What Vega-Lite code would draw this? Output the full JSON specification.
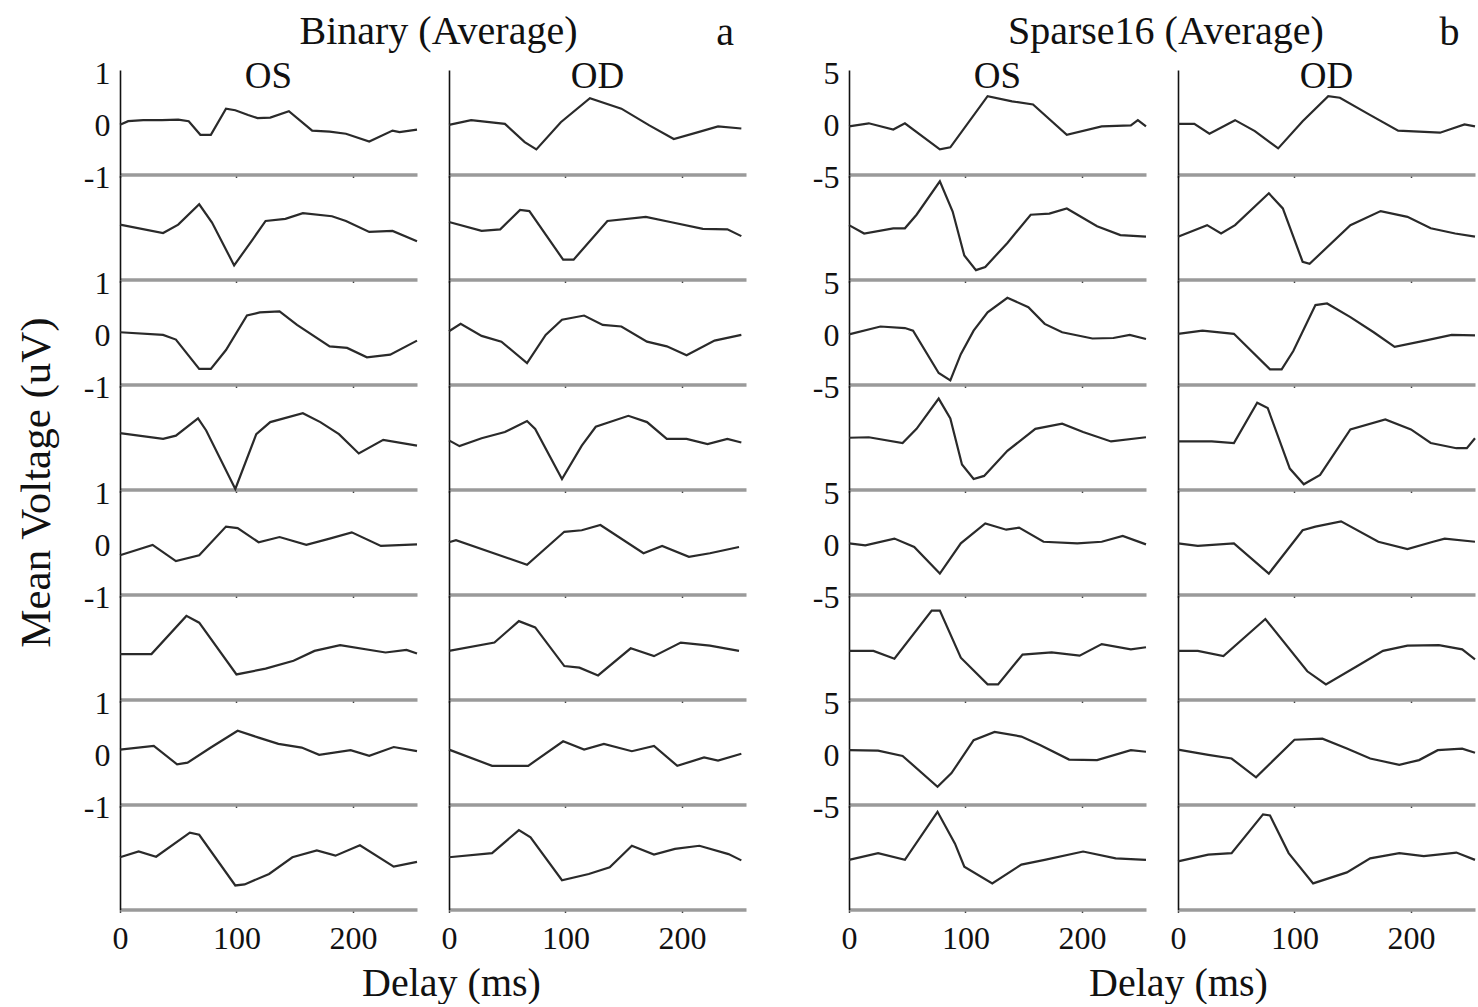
{
"$schema": "https://vega.github.io/schema/vega-lite/v6.json",
"background": "white",
"padding": {"left": 14, "top": 12, "right": 0, "bottom": 0},
"spacing": 66,
"hconcat": [
{"title": {"text": "a", "anchor": "end", "dy": 45, "dx": -12, "fontSize": 40},
 "vconcat": [
 {"title": {"text": "Binary (Average)", "anchor": "middle", "fontSize": 40, "offset": 2, "dx": 58, "dy": -3},
  "columns": 2, "spacing": {"row": 0, "column": 32}, "bounds": "flush",
  "concat": [
  {"data": {"name": "aOS1"}, "title": {"text": "OS", "frame": "group", "fontSize": 37, "offset": 0, "dy": 39}, "mark": "line",
   "encoding": {"x": {"field": "t", "type": "quantitative", "scale": {"domain": [0, 255], "nice": false}, "title": null},
                "y": {"field": "v", "type": "quantitative", "scale": {"domain": [-1, 1], "nice": false}, "title": null, "axis": {"labels": true, "labelExpr": "'' + datum.value"}}}},
  {"data": {"name": "aOD1"}, "title": {"text": "OD", "frame": "group", "fontSize": 37, "offset": 0, "dy": 26}, "mark": "line",
   "encoding": {"x": {"field": "t", "type": "quantitative", "scale": {"domain": [0, 255], "nice": false}, "title": null},
                "y": {"field": "v", "type": "quantitative", "scale": {"domain": [-1, 1], "nice": false}, "title": null}}},
  {"data": {"name": "aOS2"}, "mark": "line",
   "encoding": {"x": {"field": "t", "type": "quantitative", "scale": {"domain": [0, 255], "nice": false}, "title": null},
                "y": {"field": "v", "type": "quantitative", "scale": {"domain": [-1, 1], "nice": false}, "title": null}}},
  {"data": {"name": "aOD2"}, "mark": "line",
   "encoding": {"x": {"field": "t", "type": "quantitative", "scale": {"domain": [0, 255], "nice": false}, "title": null},
                "y": {"field": "v", "type": "quantitative", "scale": {"domain": [-1, 1], "nice": false}, "title": null}}},
  {"data": {"name": "aOS3"}, "mark": "line",
   "encoding": {"x": {"field": "t", "type": "quantitative", "scale": {"domain": [0, 255], "nice": false}, "title": null},
                "y": {"field": "v", "type": "quantitative", "scale": {"domain": [-1, 1], "nice": false}, "title": null, "axis": {"labels": true, "labelExpr": "'' + datum.value"}}}},
  {"data": {"name": "aOD3"}, "mark": "line",
   "encoding": {"x": {"field": "t", "type": "quantitative", "scale": {"domain": [0, 255], "nice": false}, "title": null},
                "y": {"field": "v", "type": "quantitative", "scale": {"domain": [-1, 1], "nice": false}, "title": null}}},
  {"data": {"name": "aOS4"}, "mark": "line",
   "encoding": {"x": {"field": "t", "type": "quantitative", "scale": {"domain": [0, 255], "nice": false}, "title": null},
                "y": {"field": "v", "type": "quantitative", "scale": {"domain": [-1, 1], "nice": false}, "title": null}}},
  {"data": {"name": "aOD4"}, "mark": "line",
   "encoding": {"x": {"field": "t", "type": "quantitative", "scale": {"domain": [0, 255], "nice": false}, "title": null},
                "y": {"field": "v", "type": "quantitative", "scale": {"domain": [-1, 1], "nice": false}, "title": null}}},
  {"data": {"name": "aOS5"}, "mark": "line",
   "encoding": {"x": {"field": "t", "type": "quantitative", "scale": {"domain": [0, 255], "nice": false}, "title": null},
                "y": {"field": "v", "type": "quantitative", "scale": {"domain": [-1, 1], "nice": false}, "title": "Mean Voltage (uV)",
                      "axis": {"labels": true, "labelExpr": "'' + datum.value", "titleX": -84, "titleY": -8, "titleAngle": -90, "titleAlign": "center", "titleBaseline": "middle", "titleFontSize": 43}}}},
  {"data": {"name": "aOD5"}, "mark": "line",
   "encoding": {"x": {"field": "t", "type": "quantitative", "scale": {"domain": [0, 255], "nice": false}, "title": null},
                "y": {"field": "v", "type": "quantitative", "scale": {"domain": [-1, 1], "nice": false}, "title": null}}},
  {"data": {"name": "aOS6"}, "mark": "line",
   "encoding": {"x": {"field": "t", "type": "quantitative", "scale": {"domain": [0, 255], "nice": false}, "title": null},
                "y": {"field": "v", "type": "quantitative", "scale": {"domain": [-1, 1], "nice": false}, "title": null}}},
  {"data": {"name": "aOD6"}, "mark": "line",
   "encoding": {"x": {"field": "t", "type": "quantitative", "scale": {"domain": [0, 255], "nice": false}, "title": null},
                "y": {"field": "v", "type": "quantitative", "scale": {"domain": [-1, 1], "nice": false}, "title": null}}},
  {"data": {"name": "aOS7"}, "mark": "line",
   "encoding": {"x": {"field": "t", "type": "quantitative", "scale": {"domain": [0, 255], "nice": false}, "title": null},
                "y": {"field": "v", "type": "quantitative", "scale": {"domain": [-1, 1], "nice": false}, "title": null, "axis": {"labels": true, "labelExpr": "'' + datum.value"}}}},
  {"data": {"name": "aOD7"}, "mark": "line",
   "encoding": {"x": {"field": "t", "type": "quantitative", "scale": {"domain": [0, 255], "nice": false}, "title": null},
                "y": {"field": "v", "type": "quantitative", "scale": {"domain": [-1, 1], "nice": false}, "title": null}}},
  {"data": {"name": "aOS8"}, "mark": "line",
   "encoding": {"x": {"field": "t", "type": "quantitative", "scale": {"domain": [0, 255], "nice": false}, "title": "Delay (ms)",
                      "axis": {"labels": true, "titleX": 331, "titleY": 74, "titleAlign": "center", "titleBaseline": "middle"}},
                "y": {"field": "v", "type": "quantitative", "scale": {"domain": [-1, 1], "nice": false}, "title": null}}},
  {"data": {"name": "aOD8"}, "mark": "line",
   "encoding": {"x": {"field": "t", "type": "quantitative", "scale": {"domain": [0, 255], "nice": false}, "title": null, "axis": {"labels": true}},
                "y": {"field": "v", "type": "quantitative", "scale": {"domain": [-1, 1], "nice": false}, "title": null}}}
  ]}
 ]},
{"title": {"text": "b", "anchor": "end", "dy": 45, "dx": -20, "fontSize": 40},
 "vconcat": [
 {"title": {"text": "Sparse16 (Average)", "anchor": "middle", "fontSize": 40, "offset": 2, "dx": 20, "dy": -3},
  "columns": 2, "spacing": {"row": 0, "column": 32}, "bounds": "flush",
  "concat": [
  {"data": {"name": "bOS1"}, "title": {"text": "OS", "frame": "group", "fontSize": 37, "offset": 0, "dy": 39}, "mark": "line",
   "encoding": {"x": {"field": "t", "type": "quantitative", "scale": {"domain": [0, 255], "nice": false}, "title": null},
                "y": {"field": "v", "type": "quantitative", "scale": {"domain": [-5, 5], "nice": false}, "title": null, "axis": {"labels": true, "labelExpr": "'' + datum.value"}}}},
  {"data": {"name": "bOD1"}, "title": {"text": "OD", "frame": "group", "fontSize": 37, "offset": 0, "dy": 26}, "mark": "line",
   "encoding": {"x": {"field": "t", "type": "quantitative", "scale": {"domain": [0, 255], "nice": false}, "title": null},
                "y": {"field": "v", "type": "quantitative", "scale": {"domain": [-5, 5], "nice": false}, "title": null}}},
  {"data": {"name": "bOS2"}, "mark": "line",
   "encoding": {"x": {"field": "t", "type": "quantitative", "scale": {"domain": [0, 255], "nice": false}, "title": null},
                "y": {"field": "v", "type": "quantitative", "scale": {"domain": [-5, 5], "nice": false}, "title": null}}},
  {"data": {"name": "bOD2"}, "mark": "line",
   "encoding": {"x": {"field": "t", "type": "quantitative", "scale": {"domain": [0, 255], "nice": false}, "title": null},
                "y": {"field": "v", "type": "quantitative", "scale": {"domain": [-5, 5], "nice": false}, "title": null}}},
  {"data": {"name": "bOS3"}, "mark": "line",
   "encoding": {"x": {"field": "t", "type": "quantitative", "scale": {"domain": [0, 255], "nice": false}, "title": null},
                "y": {"field": "v", "type": "quantitative", "scale": {"domain": [-5, 5], "nice": false}, "title": null, "axis": {"labels": true, "labelExpr": "'' + datum.value"}}}},
  {"data": {"name": "bOD3"}, "mark": "line",
   "encoding": {"x": {"field": "t", "type": "quantitative", "scale": {"domain": [0, 255], "nice": false}, "title": null},
                "y": {"field": "v", "type": "quantitative", "scale": {"domain": [-5, 5], "nice": false}, "title": null}}},
  {"data": {"name": "bOS4"}, "mark": "line",
   "encoding": {"x": {"field": "t", "type": "quantitative", "scale": {"domain": [0, 255], "nice": false}, "title": null},
                "y": {"field": "v", "type": "quantitative", "scale": {"domain": [-5, 5], "nice": false}, "title": null}}},
  {"data": {"name": "bOD4"}, "mark": "line",
   "encoding": {"x": {"field": "t", "type": "quantitative", "scale": {"domain": [0, 255], "nice": false}, "title": null},
                "y": {"field": "v", "type": "quantitative", "scale": {"domain": [-5, 5], "nice": false}, "title": null}}},
  {"data": {"name": "bOS5"}, "mark": "line",
   "encoding": {"x": {"field": "t", "type": "quantitative", "scale": {"domain": [0, 255], "nice": false}, "title": null},
                "y": {"field": "v", "type": "quantitative", "scale": {"domain": [-5, 5], "nice": false}, "title": null, "axis": {"labels": true, "labelExpr": "'' + datum.value"}}}},
  {"data": {"name": "bOD5"}, "mark": "line",
   "encoding": {"x": {"field": "t", "type": "quantitative", "scale": {"domain": [0, 255], "nice": false}, "title": null},
                "y": {"field": "v", "type": "quantitative", "scale": {"domain": [-5, 5], "nice": false}, "title": null}}},
  {"data": {"name": "bOS6"}, "mark": "line",
   "encoding": {"x": {"field": "t", "type": "quantitative", "scale": {"domain": [0, 255], "nice": false}, "title": null},
                "y": {"field": "v", "type": "quantitative", "scale": {"domain": [-5, 5], "nice": false}, "title": null}}},
  {"data": {"name": "bOD6"}, "mark": "line",
   "encoding": {"x": {"field": "t", "type": "quantitative", "scale": {"domain": [0, 255], "nice": false}, "title": null},
                "y": {"field": "v", "type": "quantitative", "scale": {"domain": [-5, 5], "nice": false}, "title": null}}},
  {"data": {"name": "bOS7"}, "mark": "line",
   "encoding": {"x": {"field": "t", "type": "quantitative", "scale": {"domain": [0, 255], "nice": false}, "title": null},
                "y": {"field": "v", "type": "quantitative", "scale": {"domain": [-5, 5], "nice": false}, "title": null, "axis": {"labels": true, "labelExpr": "'' + datum.value"}}}},
  {"data": {"name": "bOD7"}, "mark": "line",
   "encoding": {"x": {"field": "t", "type": "quantitative", "scale": {"domain": [0, 255], "nice": false}, "title": null},
                "y": {"field": "v", "type": "quantitative", "scale": {"domain": [-5, 5], "nice": false}, "title": null}}},
  {"data": {"name": "bOS8"}, "mark": "line",
   "encoding": {"x": {"field": "t", "type": "quantitative", "scale": {"domain": [0, 255], "nice": false}, "title": "Delay (ms)",
                      "axis": {"labels": true, "titleX": 329, "titleY": 74, "titleAlign": "center", "titleBaseline": "middle"}},
                "y": {"field": "v", "type": "quantitative", "scale": {"domain": [-5, 5], "nice": false}, "title": null}}},
  {"data": {"name": "bOD8"}, "mark": "line",
   "encoding": {"x": {"field": "t", "type": "quantitative", "scale": {"domain": [0, 255], "nice": false}, "title": null, "axis": {"labels": true}},
                "y": {"field": "v", "type": "quantitative", "scale": {"domain": [-5, 5], "nice": false}, "title": null}}}
  ]}
 ]}
],
"config": {
 "font": "Liberation Serif",
 "view": {"stroke": null, "continuousWidth": 297, "continuousHeight": 104.5},
 "line": {"color": "#2a2a2a", "strokeWidth": 2.2},
 "title": {"font": "Liberation Serif", "fontSize": 40, "fontWeight": "normal", "color": "#111111"},
 "axis": {"grid": false, "labelFont": "Liberation Serif", "labelFontSize": 32, "labelColor": "#111111", "titleFont": "Liberation Serif", "titleFontSize": 40, "titleFontWeight": "normal", "titleColor": "#111111", "labelFlush": false, "labelOverlap": false, "labelBound": false},
 "axisX": {"labels": false, "tickCount": 3, "domainColor": "#9a9a9a", "domainWidth": 3.5, "ticks": true, "tickSize": 3, "tickColor": "#444444", "tickWidth": 1.5, "labelPadding": 11},
 "axisY": {"labels": false, "tickCount": 2, "domainColor": "#111111", "domainWidth": 1.6, "ticks": false, "labelPadding": 10, "labelOffset": 3}
},
"datasets": {
 "aOS1": [{"t":0,"v":-0.05},{"t":7,"v":0.02},{"t":20,"v":0.04},{"t":36,"v":0.04},{"t":50,"v":0.05},{"t":59,"v":0.02},{"t":69,"v":-0.24},{"t":78,"v":-0.24},{"t":91,"v":0.26},{"t":99,"v":0.23},{"t":110,"v":0.14},{"t":118,"v":0.08},{"t":129,"v":0.09},{"t":145,"v":0.21},{"t":165,"v":-0.16},{"t":180,"v":-0.18},{"t":194,"v":-0.22},{"t":214,"v":-0.37},{"t":234,"v":-0.16},{"t":240,"v":-0.19},{"t":255,"v":-0.14}],
 "aOS2": [{"t":0,"v":0.05},{"t":37,"v":-0.11},{"t":50,"v":0.05},{"t":68,"v":0.44},{"t":79,"v":0.09},{"t":98,"v":-0.73},{"t":114,"v":-0.23},{"t":125,"v":0.12},{"t":142,"v":0.16},{"t":157,"v":0.27},{"t":182,"v":0.21},{"t":194,"v":0.12},{"t":214,"v":-0.09},{"t":234,"v":-0.07},{"t":255,"v":-0.27}],
 "aOS3": [{"t":0,"v":0},{"t":37,"v":-0.05},{"t":48,"v":-0.14},{"t":68,"v":-0.7},{"t":78,"v":-0.7},{"t":91,"v":-0.34},{"t":109,"v":0.32},{"t":120,"v":0.38},{"t":137,"v":0.4},{"t":152,"v":0.14},{"t":180,"v":-0.27},{"t":195,"v":-0.3},{"t":212,"v":-0.48},{"t":232,"v":-0.43},{"t":255,"v":-0.16}],
 "aOS4": [{"t":0,"v":0.08},{"t":37,"v":-0.03},{"t":48,"v":0.03},{"t":67,"v":0.36},{"t":74,"v":0.13},{"t":99,"v":-0.99},{"t":117,"v":0.06},{"t":129,"v":0.29},{"t":157,"v":0.46},{"t":172,"v":0.29},{"t":188,"v":0.06},{"t":205,"v":-0.31},{"t":226,"v":-0.05},{"t":255,"v":-0.16}],
 "aOS5": [{"t":0,"v":-0.25},{"t":28,"v":-0.05},{"t":48,"v":-0.36},{"t":68,"v":-0.25},{"t":91,"v":0.3},{"t":101,"v":0.27},{"t":119,"v":0},{"t":137,"v":0.1},{"t":160,"v":-0.05},{"t":180,"v":0.07},{"t":199,"v":0.19},{"t":224,"v":-0.07},{"t":255,"v":-0.04}],
 "aOS6": [{"t":0,"v":-0.13},{"t":27,"v":-0.13},{"t":57,"v":0.6},{"t":68,"v":0.47},{"t":100,"v":-0.52},{"t":125,"v":-0.41},{"t":149,"v":-0.26},{"t":167,"v":-0.07},{"t":189,"v":0.04},{"t":228,"v":-0.1},{"t":246,"v":-0.05},{"t":255,"v":-0.12}],
 "aOS7": [{"t":0,"v":0.05},{"t":29,"v":0.12},{"t":49,"v":-0.23},{"t":58,"v":-0.2},{"t":78,"v":0.09},{"t":101,"v":0.41},{"t":119,"v":0.28},{"t":136,"v":0.16},{"t":156,"v":0.09},{"t":171,"v":-0.05},{"t":198,"v":0.04},{"t":214,"v":-0.07},{"t":235,"v":0.1},{"t":255,"v":0.02}],
 "aOS8": [{"t":0,"v":0},{"t":16,"v":0.11},{"t":31,"v":0.01},{"t":60,"v":0.47},{"t":68,"v":0.43},{"t":99,"v":-0.54},{"t":107,"v":-0.52},{"t":128,"v":-0.32},{"t":148,"v":0},{"t":169,"v":0.13},{"t":185,"v":0.03},{"t":206,"v":0.23},{"t":235,"v":-0.18},{"t":255,"v":-0.09}],
 "aOD1": [{"t":0,"v":-0.05},{"t":19,"v":0.04},{"t":48,"v":-0.03},{"t":65,"v":-0.38},{"t":75,"v":-0.52},{"t":96,"v":0},{"t":121,"v":0.46},{"t":148,"v":0.26},{"t":172,"v":-0.06},{"t":193,"v":-0.32},{"t":214,"v":-0.19},{"t":231,"v":-0.08},{"t":251,"v":-0.12}],
 "aOD2": [{"t":0,"v":0.1},{"t":28,"v":-0.07},{"t":44,"v":-0.04},{"t":61,"v":0.33},{"t":69,"v":0.31},{"t":98,"v":-0.62},{"t":107,"v":-0.62},{"t":136,"v":0.12},{"t":169,"v":0.2},{"t":190,"v":0.1},{"t":218,"v":-0.03},{"t":239,"v":-0.04},{"t":251,"v":-0.17}],
 "aOD3": [{"t":0,"v":0.02},{"t":10,"v":0.16},{"t":28,"v":-0.07},{"t":45,"v":-0.18},{"t":67,"v":-0.59},{"t":83,"v":-0.05},{"t":97,"v":0.24},{"t":116,"v":0.32},{"t":132,"v":0.14},{"t":148,"v":0.11},{"t":170,"v":-0.18},{"t":187,"v":-0.27},{"t":204,"v":-0.44},{"t":228,"v":-0.16},{"t":251,"v":-0.05}],
 "aOD4": [{"t":0,"v":-0.06},{"t":9,"v":-0.17},{"t":28,"v":-0.02},{"t":48,"v":0.1},{"t":67,"v":0.31},{"t":74,"v":0.16},{"t":97,"v":-0.8},{"t":114,"v":-0.16},{"t":126,"v":0.2},{"t":154,"v":0.41},{"t":170,"v":0.29},{"t":187,"v":-0.03},{"t":204,"v":-0.03},{"t":222,"v":-0.13},{"t":239,"v":-0.03},{"t":251,"v":-0.1}],
 "aOD5": [{"t":0,"v":0},{"t":6,"v":0.04},{"t":67,"v":-0.43},{"t":99,"v":0.2},{"t":114,"v":0.23},{"t":130,"v":0.33},{"t":167,"v":-0.21},{"t":183,"v":-0.07},{"t":206,"v":-0.28},{"t":224,"v":-0.21},{"t":249,"v":-0.09}],
 "aOD6": [{"t":0,"v":-0.07},{"t":39,"v":0.09},{"t":60,"v":0.5},{"t":74,"v":0.38},{"t":99,"v":-0.36},{"t":112,"v":-0.39},{"t":128,"v":-0.54},{"t":156,"v":-0.02},{"t":176,"v":-0.17},{"t":199,"v":0.09},{"t":224,"v":0.03},{"t":249,"v":-0.07}],
 "aOD7": [{"t":0,"v":0.05},{"t":37,"v":-0.26},{"t":68,"v":-0.26},{"t":98,"v":0.21},{"t":116,"v":0.05},{"t":133,"v":0.16},{"t":157,"v":0.02},{"t":176,"v":0.12},{"t":196,"v":-0.26},{"t":219,"v":-0.1},{"t":231,"v":-0.16},{"t":251,"v":-0.03}],
 "aOD8": [{"t":0,"v":0},{"t":37,"v":0.08},{"t":60,"v":0.52},{"t":70,"v":0.38},{"t":97,"v":-0.44},{"t":120,"v":-0.32},{"t":138,"v":-0.19},{"t":157,"v":0.22},{"t":176,"v":0.05},{"t":194,"v":0.16},{"t":215,"v":0.22},{"t":240,"v":0.06},{"t":251,"v":-0.06}],
 "bOS1": [{"t":0,"v":-0.4},{"t":17,"v":-0.1},{"t":38,"v":-0.7},{"t":48,"v":-0.1},{"t":78,"v":-2.6},{"t":87,"v":-2.4},{"t":119,"v":2.5},{"t":140,"v":2.0},{"t":158,"v":1.7},{"t":187,"v":-1.2},{"t":217,"v":-0.4},{"t":242,"v":-0.3},{"t":248,"v":0.2},{"t":255,"v":-0.4}],
 "bOS2": [{"t":0,"v":0.2},{"t":13,"v":-0.6},{"t":38,"v":-0.1},{"t":48,"v":-0.1},{"t":58,"v":1.2},{"t":78,"v":4.4},{"t":89,"v":1.5},{"t":99,"v":-2.7},{"t":109,"v":-4.1},{"t":117,"v":-3.8},{"t":136,"v":-1.5},{"t":156,"v":1.2},{"t":172,"v":1.3},{"t":187,"v":1.8},{"t":213,"v":0.1},{"t":233,"v":-0.75},{"t":255,"v":-0.9}],
 "bOS3": [{"t":0,"v":-0.2},{"t":27,"v":0.55},{"t":48,"v":0.4},{"t":55,"v":0.15},{"t":77,"v":-3.9},{"t":87,"v":-4.6},{"t":96,"v":-2.1},{"t":107,"v":0.15},{"t":119,"v":1.9},{"t":136,"v":3.3},{"t":154,"v":2.4},{"t":168,"v":0.8},{"t":183,"v":0},{"t":209,"v":-0.6},{"t":227,"v":-0.55},{"t":241,"v":-0.25},{"t":255,"v":-0.65}],
 "bOS4": [{"t":0,"v":-0.05},{"t":17,"v":0},{"t":46,"v":-0.55},{"t":58,"v":0.8},{"t":77,"v":3.7},{"t":87,"v":1.8},{"t":97,"v":-2.6},{"t":107,"v":-4.0},{"t":116,"v":-3.7},{"t":136,"v":-1.3},{"t":160,"v":0.8},{"t":183,"v":1.3},{"t":201,"v":0.5},{"t":225,"v":-0.4},{"t":255,"v":0}],
 "bOS5": [{"t":0,"v":-0.1},{"t":14,"v":-0.3},{"t":39,"v":0.35},{"t":56,"v":-0.45},{"t":78,"v":-3.0},{"t":96,"v":-0.1},{"t":117,"v":1.8},{"t":135,"v":1.2},{"t":146,"v":1.4},{"t":167,"v":0.05},{"t":196,"v":-0.1},{"t":217,"v":0.05},{"t":235,"v":0.6},{"t":255,"v":-0.2}],
 "bOS6": [{"t":0,"v":-0.35},{"t":21,"v":-0.35},{"t":39,"v":-1.1},{"t":71,"v":3.5},{"t":78,"v":3.5},{"t":96,"v":-1.0},{"t":119,"v":-3.55},{"t":128,"v":-3.55},{"t":149,"v":-0.7},{"t":174,"v":-0.5},{"t":198,"v":-0.8},{"t":217,"v":0.3},{"t":242,"v":-0.2},{"t":255,"v":0}],
 "bOS7": [{"t":0,"v":0.2},{"t":25,"v":0.15},{"t":46,"v":-0.35},{"t":76,"v":-3.3},{"t":88,"v":-2.0},{"t":107,"v":1.15},{"t":125,"v":1.95},{"t":148,"v":1.5},{"t":164,"v":0.7},{"t":189,"v":-0.7},{"t":213,"v":-0.75},{"t":242,"v":0.2},{"t":255,"v":0.05}],
 "bOS8": [{"t":0,"v":-0.25},{"t":25,"v":0.4},{"t":48,"v":-0.25},{"t":76,"v":4.35},{"t":91,"v":1.3},{"t":99,"v":-0.9},{"t":123,"v":-2.5},{"t":148,"v":-0.7},{"t":168,"v":-0.25},{"t":201,"v":0.55},{"t":229,"v":-0.1},{"t":255,"v":-0.25}],
 "bOD1": [{"t":0,"v":-0.15},{"t":14,"v":-0.15},{"t":27,"v":-1.1},{"t":49,"v":0.2},{"t":66,"v":-0.85},{"t":86,"v":-2.5},{"t":107,"v":0.1},{"t":129,"v":2.5},{"t":139,"v":2.35},{"t":164,"v":0.75},{"t":189,"v":-0.8},{"t":225,"v":-1.0},{"t":246,"v":-0.2},{"t":255,"v":-0.4}],
 "bOD2": [{"t":0,"v":-0.9},{"t":25,"v":0.2},{"t":37,"v":-0.6},{"t":49,"v":0.2},{"t":78,"v":3.25},{"t":90,"v":1.8},{"t":107,"v":-3.3},{"t":113,"v":-3.5},{"t":148,"v":0.2},{"t":174,"v":1.55},{"t":197,"v":1.0},{"t":217,"v":-0.1},{"t":238,"v":-0.6},{"t":255,"v":-0.9}],
 "bOD3": [{"t":0,"v":-0.15},{"t":21,"v":0.15},{"t":48,"v":-0.15},{"t":79,"v":-3.55},{"t":89,"v":-3.55},{"t":99,"v":-1.8},{"t":118,"v":2.6},{"t":128,"v":2.75},{"t":148,"v":1.45},{"t":168,"v":0},{"t":186,"v":-1.4},{"t":212,"v":-0.8},{"t":235,"v":-0.25},{"t":255,"v":-0.3}],
 "bOD4": [{"t":0,"v":-0.4},{"t":29,"v":-0.4},{"t":48,"v":-0.55},{"t":68,"v":3.3},{"t":77,"v":2.8},{"t":96,"v":-3.0},{"t":108,"v":-4.5},{"t":122,"v":-3.6},{"t":148,"v":0.75},{"t":178,"v":1.7},{"t":200,"v":0.75},{"t":217,"v":-0.55},{"t":239,"v":-1.05},{"t":248,"v":-1.05},{"t":255,"v":-0.1}],
 "bOD5": [{"t":0,"v":-0.1},{"t":17,"v":-0.35},{"t":48,"v":-0.1},{"t":78,"v":-3.0},{"t":107,"v":1.15},{"t":118,"v":1.5},{"t":140,"v":2.0},{"t":172,"v":0.05},{"t":197,"v":-0.65},{"t":219,"v":0.05},{"t":229,"v":0.35},{"t":255,"v":0.05}],
 "bOD6": [{"t":0,"v":-0.35},{"t":17,"v":-0.35},{"t":39,"v":-0.85},{"t":75,"v":2.7},{"t":111,"v":-2.3},{"t":127,"v":-3.55},{"t":154,"v":-1.8},{"t":176,"v":-0.35},{"t":197,"v":0.15},{"t":224,"v":0.2},{"t":244,"v":-0.2},{"t":255,"v":-1.15}],
 "bOD7": [{"t":0,"v":0.25},{"t":26,"v":-0.25},{"t":46,"v":-0.6},{"t":67,"v":-2.4},{"t":100,"v":1.2},{"t":124,"v":1.3},{"t":145,"v":0.35},{"t":165,"v":-0.6},{"t":190,"v":-1.2},{"t":207,"v":-0.75},{"t":223,"v":0.2},{"t":244,"v":0.35},{"t":255,"v":-0.05}],
 "bOD8": [{"t":0,"v":-0.4},{"t":26,"v":0.25},{"t":46,"v":0.4},{"t":73,"v":4.1},{"t":79,"v":4.0},{"t":95,"v":0.4},{"t":116,"v":-2.5},{"t":145,"v":-1.45},{"t":165,"v":-0.1},{"t":190,"v":0.4},{"t":211,"v":0.1},{"t":239,"v":0.45},{"t":255,"v":-0.25}]
}
}
